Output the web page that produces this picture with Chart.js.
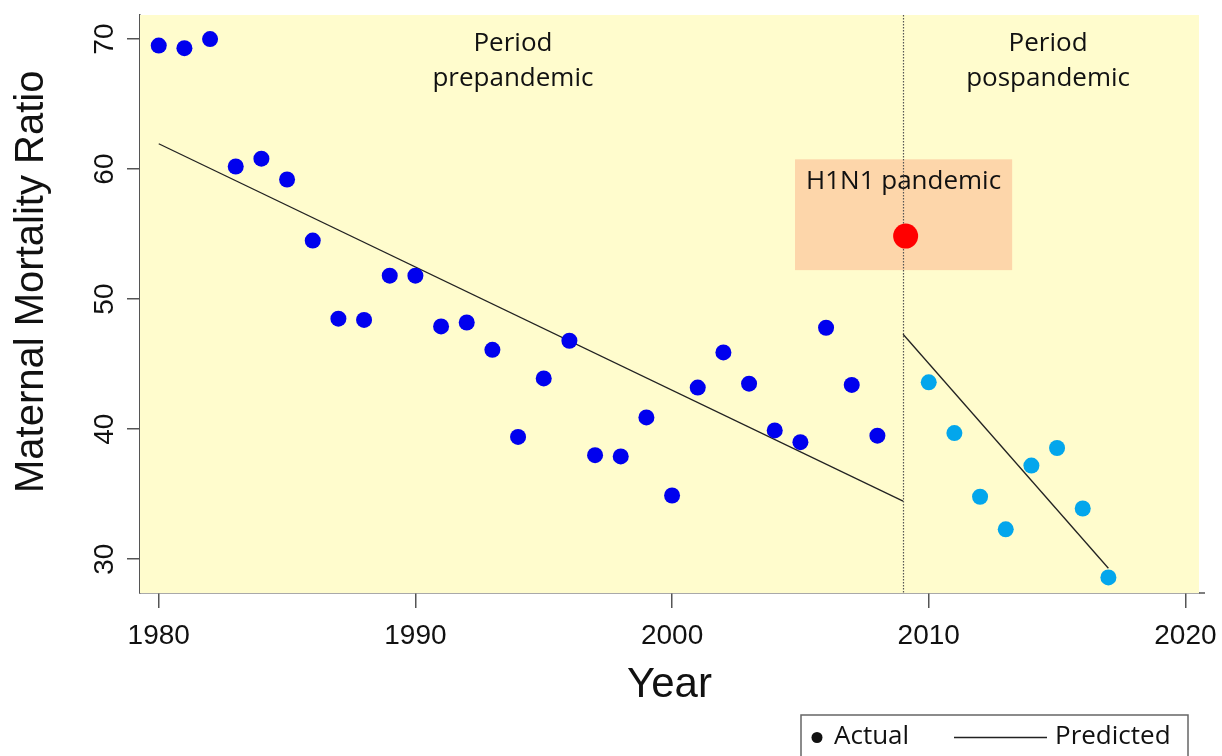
<!DOCTYPE html>
<html lang="en">
<head>
    <meta charset="UTF-8">
    <title>Maternal Mortality Ratio</title>
    <style>
        html, body { margin: 0; padding: 0; background: #ffffff; }
        #myChart { display: block; }
    </style>
</head>
<body>

    <canvas id="myChart" width="1222" height="756"></canvas>
    <script src="https://cdn.jsdelivr.net/npm/chart.js"></script>

    <script>
        // data
        const preYears = [1980, 1981, 1982, 1983, 1984, 1985, 1986, 1987, 1988, 1989,
                          1990, 1991, 1992, 1993, 1994, 1995, 1996, 1997, 1998, 1999,
                          2000, 2001, 2002, 2003, 2004, 2005, 2006, 2007, 2008]
        const preRatio = [69.5, 69.3, 70.0, 60.2, 60.8, 59.2, 54.5, 48.5, 48.4, 51.8,
                          51.8, 47.9, 48.2, 46.1, 39.4, 43.9, 46.8, 38.0, 37.9, 40.9,
                          34.9, 43.2, 45.9, 43.5, 39.9, 39.0, 47.8, 43.4, 39.5]
        const pandemicYear = [2009.1]
        const pandemicRatio = [54.85]
        const postYears = [2010, 2011, 2012, 2013, 2014, 2015, 2016, 2017]
        const postRatio = [43.6, 39.7, 34.8, 32.3, 37.2, 38.55, 33.9, 28.6]

        const predPreYears = [1980, 2009]
        const predPreRatio = [61.95, 34.46]
        const predPostYears = [2009, 2017]
        const predPostRatio = [47.3, 29.3]

        const xTicks = [1980, 1990, 2000, 2010, 2020]
        const yTicks = [30, 40, 50, 60, 70]

        const breakYear = 2009
        const pandemicBox = [2004.79, 2013.25, 52.23, 60.75]   // x0, x1, y0, y1

        const toPoints = (xs, ys) => xs.map((x, i) => ({ x: x, y: ys[i] }))

        const annoFont = '"Open Sans", "Noto Sans", sans-serif'
        const axisFont = '"Liberation Sans", Arial, sans-serif'

        // yellow panel, H1N1 box, dotted break line and labels
        const panelPlugin = {
            id: 'panel',
            beforeDatasetsDraw(chart) {
                const { ctx, chartArea: a, scales: { x, y } } = chart
                ctx.save()
                ctx.fillStyle = '#fffccd'
                ctx.fillRect(a.left, a.top, a.right - a.left, a.bottom - a.top)

                const bx0 = x.getPixelForValue(pandemicBox[0])
                const bx1 = x.getPixelForValue(pandemicBox[1])
                const by0 = y.getPixelForValue(pandemicBox[3])
                const by1 = y.getPixelForValue(pandemicBox[2])
                ctx.fillStyle = '#fdd6aa'
                ctx.fillRect(bx0, by0, bx1 - bx0, by1 - by0)

                ctx.fillStyle = '#111'
                ctx.font = '26px ' + annoFont
                ctx.textAlign = 'center'
                ctx.textBaseline = 'alphabetic'
                ctx.fillText('H1N1 pandemic', (bx0 + bx1) / 2, y.getPixelForValue(58.44))

                ctx.fillText('Period', x.getPixelForValue(1993.8), y.getPixelForValue(69.08))
                ctx.fillText('prepandemic', x.getPixelForValue(1993.8), y.getPixelForValue(66.38))
                ctx.fillText('Period', x.getPixelForValue(2014.65), y.getPixelForValue(69.08))
                ctx.fillText('pospandemic', x.getPixelForValue(2014.65), y.getPixelForValue(66.38))

                const vx = Math.round(x.getPixelForValue(breakYear)) + 0.5
                ctx.strokeStyle = '#555'
                ctx.lineWidth = 1.2
                ctx.setLineDash([1.5, 1.5])
                ctx.beginPath()
                ctx.moveTo(vx, a.top)
                ctx.lineTo(vx, a.bottom)
                ctx.stroke()
                ctx.restore()
            },
            afterDraw(chart) {
                const { ctx, chartArea: a } = chart
                ctx.save()
                // x axis line runs a little past the panel
                ctx.strokeStyle = '#555'
                ctx.lineWidth = 1.5
                ctx.beginPath()
                ctx.moveTo(a.right, a.bottom)
                ctx.lineTo(a.right + 6, a.bottom)
                ctx.stroke()

                // boxed legend at the bottom right
                ctx.strokeStyle = '#666'
                ctx.strokeRect(801, 715, 387, 60)
                ctx.fillStyle = '#111'
                ctx.beginPath()
                ctx.arc(817, 737.5, 5.5, 0, Math.PI * 2)
                ctx.fill()
                ctx.font = '26px ' + annoFont
                ctx.textBaseline = 'middle'
                ctx.textAlign = 'left'
                ctx.fillText(chart.data.datasets[0].label, 834, 737)
                ctx.strokeStyle = '#222'
                ctx.lineWidth = 1.3
                ctx.beginPath()
                ctx.moveTo(954, 737.5)
                ctx.lineTo(1047, 737.5)
                ctx.stroke()
                ctx.fillText(chart.data.datasets[3].label, 1055, 737)
                ctx.restore()
            }
        }

        const ctx = document.getElementById('myChart')
        const myChart = new Chart(ctx, {
            type: 'scatter',
            data: {
                datasets: [
                    {
                        label: 'Actual',
                        data: toPoints(preYears, preRatio),
                        backgroundColor: '#0000ee',
                        borderWidth: 0,
                        pointRadius: 8
                    },
                    {
                        label: 'Pandemic',
                        data: toPoints(pandemicYear, pandemicRatio),
                        backgroundColor: '#ff0000',
                        borderWidth: 0,
                        pointRadius: 12.5
                    },
                    {
                        label: 'Actual post',
                        data: toPoints(postYears, postRatio),
                        backgroundColor: '#03a6ec',
                        borderWidth: 0,
                        pointRadius: 8
                    },
                    {
                        label: 'Predicted',
                        data: toPoints(predPreYears, predPreRatio),
                        showLine: true,
                        borderColor: '#222',
                        borderWidth: 1.3,
                        pointRadius: 0
                    },
                    {
                        label: 'Predicted post',
                        data: toPoints(predPostYears, predPostRatio),
                        showLine: true,
                        borderColor: '#222',
                        borderWidth: 1.3,
                        pointRadius: 0
                    }
                ]
            },
            options: {
                responsive: false,
                animation: false,
                layout: { padding: { top: 15, right: 23, left: 0, bottom: 0 } },
                plugins: {
                    legend: { display: false },
                    tooltip: { enabled: false }
                },
                scales: {
                    x: {
                        type: 'linear',
                        min: 1979.27,
                        max: 2020.53,
                        afterBuildTicks: (scale) => { scale.ticks = xTicks.map(v => ({ value: v })) },
                        afterFit: (scale) => {
                            scale.height = 163
                            scale.paddingLeft = 0
                            scale.paddingRight = 0
                        },
                        border: { display: true, color: '#555', width: 1.5 },
                        grid: { drawOnChartArea: false, tickLength: 15, color: '#555', lineWidth: 1.5 },
                        ticks: {
                            color: '#111',
                            padding: 11,
                            maxRotation: 0,
                            font: { family: axisFont, size: 28 },
                            callback: (v) => String(v)
                        },
                        title: {
                            display: true,
                            text: 'Year',
                            color: '#111',
                            font: { family: axisFont, size: 42 },
                            padding: { top: 0, bottom: 45 }
                        }
                    },
                    y: {
                        type: 'linear',
                        min: 27.4,
                        max: 71.85,
                        afterBuildTicks: (scale) => { scale.ticks = yTicks.map(v => ({ value: v })) },
                        afterFit: (scale) => {
                            scale.width = 140
                            scale.paddingTop = 0
                            scale.paddingBottom = 0
                        },
                        border: { display: true, color: '#555', width: 1.5 },
                        grid: { drawOnChartArea: false, tickLength: 13, color: '#555', lineWidth: 1.5 },
                        ticks: {
                            color: '#111',
                            padding: 6,
                            minRotation: 90,
                            maxRotation: 90,
                            crossAlign: 'center',
                            font: { family: axisFont, size: 28 },
                            callback: (v) => String(v)
                        },
                        title: {
                            display: true,
                            text: '    Maternal Mortality Ratio',
                            color: '#111',
                            font: { family: axisFont, size: 40 },
                            padding: { top: 8, bottom: 0 }
                        }
                    }
                }
            },
            plugins: [panelPlugin]
        })
    </script>

</body>
</html>
